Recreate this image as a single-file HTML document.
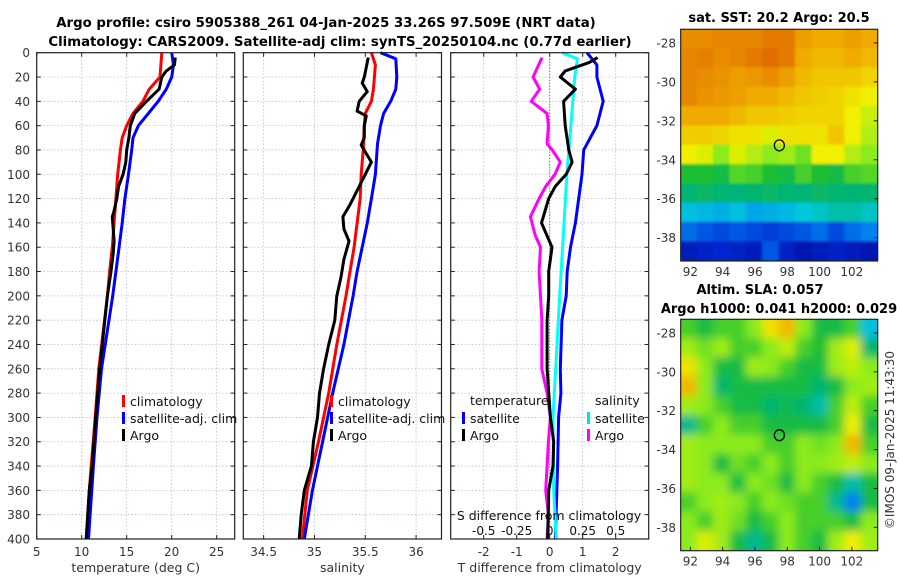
<!DOCTYPE html>
<html><head><meta charset="utf-8"><style>
html,body{margin:0;padding:0;background:#fff;}
svg{display:block;font-family:"DejaVu Sans","Liberation Sans",sans-serif;}
</style></head><body>
<svg id="fig" width="900" height="580" viewBox="0 0 900 580" xmlns="http://www.w3.org/2000/svg">
<defs><filter id="blur" x="-5%" y="-5%" width="110%" height="110%"><feGaussianBlur stdDeviation="4.5" edgeMode="duplicate"/></filter>
<filter id="blur2" x="0" y="0" width="100%" height="100%"><feGaussianBlur stdDeviation="1.2" edgeMode="duplicate"/></filter>
<clipPath id="clip1"><rect x="680.7" y="29.3" width="197" height="231.7"/></clipPath>
<clipPath id="clip2"><rect x="680.7" y="319.3" width="197" height="231.4"/></clipPath></defs>
<text x="326" y="27" text-anchor="middle" font-size="13.3" font-weight="bold">Argo profile: csiro 5905388_261 04-Jan-2025 33.26S 97.509E (NRT data)</text>
<text x="340" y="46" text-anchor="middle" font-size="13.3" font-weight="bold">Climatology: CARS2009. Satellite-adj clim: synTS_20250104.nc (0.77d earlier)</text>
<text x="779" y="22" text-anchor="middle" font-size="13" font-weight="bold">sat. SST: 20.2 Argo: 20.5</text>
<text x="760" y="294" text-anchor="middle" font-size="13" font-weight="bold">Altim. SLA: 0.057</text>
<text x="779" y="313" text-anchor="middle" font-size="13" font-weight="bold">Argo h1000: 0.041 h2000: 0.029</text>
<text transform="translate(894,440) rotate(-90)" text-anchor="middle" font-size="12" fill="#333">©IMOS 09-Jan-2025 11:43:30</text>
</svg>
<script>
// ---------- data ----------
const depthTicks = [0,20,40,60,80,100,120,140,160,180,200,220,240,260,280,300,320,340,360,380,400];
const tempTicks = [5,10,15,20,25];
const salTicks = [34.5,35,35.5,36];
const salTickLabels = ['34.5','35','35.5','36'];
const diffTicks = [-2,-1,0,1,2];
const sdiffTicks = [-0.5,-0.25,0,0.25,0.5];
const sdiffTickLabels = ['-0.5','-0.25','0','0.25','0.5'];

const tClimDepth = [0,20,30,40,50,60,70,80,100,120,140,160,180,200,260,300,340,360,400];
const tClim = [18.9,18.7,17.5,16.8,15.7,15.0,14.5,14.3,14.0,13.8,13.6,13.4,13.1,12.85,11.9,11.5,11.05,10.85,10.5];
const tSatDepth = [0,10,20,30,40,50,60,70,80,100,120,140,160,180,200,260,300,340,400];
const tSat = [20.0,20.2,20.0,19.4,18.5,17.4,16.3,15.7,15.55,15.2,14.8,14.5,14.15,13.8,13.45,12.2,11.7,11.3,10.75];
const tArgoDepth = [4,10,15,20,30,40,50,60,70,80,90,100,110,120,130,135,145,155,165,180,200,260,300,340,360,400];
const tArgo = [20.4,20.3,19.4,18.9,18.6,17.2,15.9,15.4,15.25,15.0,14.9,14.6,14.1,13.9,13.6,13.4,13.5,13.6,13.5,13.25,12.85,12.0,11.55,11.15,10.85,10.5];

const sClimDepth = [0,10,30,40,50,60,80,100,120,140,160,180,200,240,280,320,360,400];
const sClim = [35.56,35.6,35.58,35.56,35.5,35.49,35.48,35.46,35.45,35.42,35.39,35.35,35.31,35.22,35.14,35.04,34.93,34.88];
const sSatDepth = [0,5,20,30,40,50,60,75,100,120,140,160,180,200,240,280,320,360,400];
const sSat = [35.65,35.8,35.81,35.8,35.75,35.68,35.65,35.62,35.6,35.56,35.52,35.47,35.42,35.38,35.29,35.18,35.08,34.98,34.9];
const sArgoDepth = [4,20,25,32,40,48,52,60,70,76,90,100,110,125,135,145,155,170,185,200,220,240,260,280,300,320,340,360,380,400];
const sArgo = [35.53,35.49,35.47,35.52,35.44,35.42,35.51,35.49,35.49,35.46,35.56,35.5,35.44,35.35,35.28,35.29,35.34,35.29,35.26,35.22,35.2,35.14,35.09,35.05,35.03,34.99,34.97,34.9,34.87,34.85];

const dTSatDepth = [0,10,20,40,60,80,100,120,140,160,180,200,220,260,280,300,340,400];
const dTSat = [1.13,1.43,1.43,1.62,1.43,1.03,0.98,0.88,0.78,0.63,0.53,0.5,0.37,0.32,0.34,0.27,0.24,0.17];
const dTArgoDepth = [4,8,15,20,30,40,60,80,90,100,110,120,140,160,180,200,220,260,300,320,340,360,400];
const dTArgo = [1.45,1.2,0.47,0.32,0.78,0.42,0.47,0.58,0.68,0.5,0.17,-0.03,-0.25,0.07,-0.03,-0.03,-0.08,-0.08,0.02,0.12,0.1,-0.03,-0.06];
const dSSatDepth = [0,5,20,100,200,300,360,400];
const dSSat = [0.093,0.21,0.19,0.13,0.076,0.025,0.03,0.05];
const dSArgoDepth = [4,20,30,40,50,60,75,80,90,100,110,120,135,150,160,180,200,220,260,280,300,320,340,360,380,400];
const dSArgo = [-0.058,-0.126,-0.076,-0.14,-0.02,-0.01,-0.02,0.02,0.08,0.04,-0.03,-0.08,-0.146,-0.11,-0.07,-0.08,-0.07,-0.06,-0.06,-0.02,0.005,-0.01,-0.02,-0.03,-0.01,-0.02];

const latTicks = [-28,-30,-32,-34,-36,-38];
const lonTicks = [92,94,96,98,100,102];
const sstGrid = [
[.85,.85,.86,.86,.86,.88,.88,.82,.8,.8,.82,.8],
[.86,.87,.85,.86,.88,.9,.88,.8,.78,.78,.8,.78],
[.86,.85,.84,.82,.83,.85,.82,.78,.76,.76,.76,.74],
[.86,.84,.83,.82,.8,.8,.78,.76,.75,.74,.72,.7],
[.8,.8,.8,.78,.76,.76,.75,.74,.74,.74,.7,.66],
[.75,.75,.74,.72,.72,.68,.72,.72,.72,.76,.7,.64],
[.7,.68,.6,.68,.64,.6,.62,.58,.7,.7,.64,.6],
[.52,.52,.5,.56,.55,.52,.5,.55,.52,.5,.55,.56],
[.45,.46,.45,.44,.45,.46,.45,.44,.46,.45,.44,.45],
[.35,.34,.33,.35,.32,.33,.34,.36,.38,.4,.4,.38],
[.25,.22,.2,.22,.2,.18,.2,.22,.25,.2,.25,.28],
[.1,.12,.15,.12,.1,.22,.12,.08,.1,.12,.1,.08]];
const slaGrid = [
[.55,.5,.55,.55,.6,.72,.78,.6,.5,.5,.55,.35],
[.62,.58,.62,.55,.55,.6,.65,.55,.52,.62,.68,.45],
[.72,.6,.5,.5,.62,.6,.55,.5,.5,.62,.65,.6],
[.78,.6,.45,.5,.5,.5,.5,.5,.45,.5,.6,.62],
[.62,.6,.55,.5,.5,.45,.48,.45,.4,.55,.65,.55],
[.42,.55,.6,.55,.55,.5,.5,.5,.5,.55,.7,.5],
[.62,.6,.6,.6,.6,.55,.55,.6,.58,.6,.78,.55],
[.62,.6,.5,.58,.55,.6,.55,.6,.6,.62,.65,.6],
[.62,.6,.6,.5,.6,.58,.5,.6,.55,.5,.4,.5],
[.55,.6,.62,.6,.55,.6,.58,.55,.55,.42,.28,.5],
[.6,.55,.62,.58,.5,.55,.6,.55,.55,.55,.5,.6],
[.6,.68,.62,.5,.42,.5,.6,.55,.5,.62,.7,.62]];
const argoLon = 97.509;
const argoLat = -33.26;

// ---------- drawing ----------
const svg = document.getElementById('fig');
const NS = 'http://www.w3.org/2000/svg';
function mk(tag, attrs, parent){const e=document.createElementNS(NS,tag);for(const k in attrs)e.setAttribute(k,attrs[k]);(parent||svg).appendChild(e);return e;}
const Y0=52.7, Y1=539;
const yD = d => Y0 + (d/400)*(Y1-Y0);
const panels = [
 {x0:36.7,x1:234.7,min:5,max:27,name:'temperature-panel'},
 {x0:243.3,x1:441.5,min:34.3,max:36.25,name:'salinity-panel'},
 {x0:450.7,x1:648.7,min:-3,max:3,name:'difference-panel'}];
function sx(p,v){return p.x0+(v-p.min)/(p.max-p.min)*(p.x1-p.x0);}
const sP = {x0:450.7,x1:648.7,min:-0.75,max:0.75};

function panel(p, ticks, labels, xlabel, xlabelName){
  const g = mk('g',{});
  
  
  const ticksX = ticks.map(t=>sx(p,t));
  ticksX.forEach(x=>{ mk('line',{x1:x,x2:x,y1:Y0,y2:Y1,stroke:'#b8b8e0','stroke-width':0.8,'stroke-dasharray':'1.5,2'},g);
    mk('line',{x1:x,x2:x,y1:Y1,y2:Y1-4,stroke:'#222'},g); mk('line',{x1:x,x2:x,y1:Y0,y2:Y0+4,stroke:'#222'},g);});
  depthTicks.forEach(d=>{const y=yD(d);
    mk('line',{x1:p.x0,x2:p.x1,y1:y,y2:y,stroke:'#b8b8e0','stroke-width':0.8,'stroke-dasharray':'1.5,2'},g);
    mk('line',{x1:p.x0,x2:p.x0+4,y1:y,y2:y,stroke:'#222'},g); mk('line',{x1:p.x1,x2:p.x1-4,y1:y,y2:y,stroke:'#222'},g);});
  ticksX.forEach((x,i)=>{const t=mk('text',{x:x,y:556,'text-anchor':'middle','font-size':12,fill:'#333'},g);t.textContent=labels[i];
    
    });
  const xl=mk('text',{x:(p.x0+p.x1)/2,y:572,'text-anchor':'middle','font-size':12.5,fill:'#333'},g); xl.textContent=xlabel;
  
  
  return g;
}
function frame(p){const r=mk('rect',{x:p.x0,y:Y0,width:p.x1-p.x0,height:Y1-Y0,fill:'none',stroke:'#222','stroke-width':1.2});
  
  }
function line(p, depths, vals, color, name, w){
  const pts = depths.map((d,i)=>sx(p,vals[i]).toFixed(1)+','+yD(d).toFixed(1)).join(' ');
  const l = mk('polyline',{points:pts,fill:'none',stroke:color,'stroke-width':w||3,'stroke-linejoin':'round'});
  
  
}
function legendItem(x,y,color,label,name){
  const g=mk('g',{});
  
  
  mk('rect',{x:x,y:y-11,width:3,height:12,fill:color},g);
  const t=mk('text',{x:x+8,y:y,'font-size':12.5,fill:'#111'},g); t.textContent=label;
}

panel(panels[0], tempTicks, tempTicks.map(String), 'temperature (deg C)', 'temperature-axis-title');
panel(panels[1], salTicks, salTickLabels, 'salinity', 'salinity-axis-title');
panel(panels[2], diffTicks, diffTicks.map(String), 'T difference from climatology', 'temp-diff-axis-title');

depthTicks.forEach(d=>{const t=mk('text',{x:30,y:yD(d)+4.5,'text-anchor':'end','font-size':12,fill:'#333'});t.textContent=String(d);
  
  });

const z=mk('line',{x1:sx(panels[2],0),x2:sx(panels[2],0),y1:Y0,y2:Y1,stroke:'#555522','stroke-width':1,'stroke-dasharray':'1,2'});



line(panels[0], tClimDepth, tClim, '#ff0000', 'temp-climatology-line');
line(panels[0], tSatDepth, tSat, '#0000ff', 'temp-satellite-line');
line(panels[0], tArgoDepth, tArgo, '#000000', 'temp-argo-line');
line(panels[1], sClimDepth, sClim, '#ff0000', 'sal-climatology-line');
line(panels[1], sSatDepth, sSat, '#0000ff', 'sal-satellite-line');
line(panels[1], sArgoDepth, sArgo, '#000000', 'sal-argo-line');
line(panels[2], dTSatDepth, dTSat, '#0000ff', 'tdiff-satellite-line');
line(sP, dSSatDepth, dSSat, '#00ffff', 'sdiff-satellite-line');
line(sP, dSArgoDepth, dSArgo, '#ff00ff', 'sdiff-argo-line');
line(panels[2], dTArgoDepth, dTArgo, '#000000', 'tdiff-argo-line');
panels.forEach(frame);

[[122,'temp-legend'],[330,'sal-legend']].forEach(([x,n])=>{
  legendItem(x,406,'#ff0000','climatology',n+'-climatology');
  legendItem(x,423,'#0000ff','satellite-adj. clim',n+'-satellite');
  legendItem(x,440,'#000000','Argo',n+'-argo');
});
let t=mk('text',{x:470,y:405,'font-size':12.5,fill:'#111'});t.textContent='temperature';


t=mk('text',{x:595,y:405,'font-size':12.5,fill:'#111'});t.textContent='salinity';


legendItem(462,423,'#0000ff','satellite','legend-tdiff-satellite');
legendItem(462,440,'#000000','Argo','legend-tdiff-argo');
legendItem(587,423,'#00e0e0','satellite','legend-sdiff-satellite');
legendItem(587,440,'#ff00ff','Argo','legend-sdiff-argo');
t=mk('text',{x:549,y:520,'text-anchor':'middle','font-size':12.5,fill:'#111'});t.textContent='S difference from climatology';


sdiffTicks.forEach((v,i)=>{const tt=mk('text',{x:sx(sP,v),y:535,'text-anchor':'middle','font-size':12,fill:'#111'});tt.textContent=sdiffTickLabels[i];
  
  });

// ---------- maps ----------
const stops=[[0,[0,0,140]],[0.15,[0,40,210]],[0.28,[0,130,240]],[0.36,[0,200,220]],[0.44,[0,180,120]],[0.52,[30,190,50]],[0.6,[140,235,30]],[0.7,[240,240,0]],[0.8,[240,170,0]],[0.9,[225,110,0]],[1,[190,60,0]]];
function cmap(v){for(let i=1;i<stops.length;i++){if(v<=stops[i][0]){const a=stops[i-1],b=stops[i],f=(v-a[0])/(b[0]-a[0]);return 'rgb('+a[1].map((c,k)=>Math.round(c+(b[1][k]-c)*f)).join(',')+')';}}return 'rgb(190,60,0)';}
function map(grid, top, bottom, clip, name, blur){
  const L=680.7,R=877.7, lon0=91.4, lon1=103.6, lat0=-27.3, lat1=-39.2;
  const xL = lon => L+(lon-lon0)/(lon1-lon0)*(R-L);
  const yL = lat => top+(lat-lat0)/(lat1-lat0)*(bottom-top);
  const g=mk('g',{'clip-path':'url(#'+clip+')'});
  
  
  const inner=mk('g',{filter:'url(#'+blur+')'},g);
  const rows=grid.length, cols=grid[0].length, cw=(R-L)/cols, ch=(bottom-top)/rows;
  mk('rect',{x:L-10,y:top-10,width:R-L+20,height:bottom-top+20,fill:cmap(grid[0][0])},inner);
  grid.forEach((row,r)=>row.forEach((v,c)=>{
    const x0 = c===0 ? L-10 : L+c*cw-0.5;
    const x1 = c===cols-1 ? R+10 : L+(c+1)*cw+0.5;
    const y0 = r===0 ? top-10 : top+r*ch-0.5;
    const y1 = r===rows-1 ? bottom+10 : top+(r+1)*ch+0.5;
    const cell=mk('rect',{x:x0,y:y0,width:x1-x0,height:y1-y0,fill:cmap(v)},inner);
    
    
  }));
  const fr=mk('rect',{x:L,y:top,width:R-L,height:bottom-top,fill:'none',stroke:'#222','stroke-width':1.2});
  
  
  latTicks.forEach(lat=>{const y=yL(lat);
    mk('line',{x1:R,x2:R-4,y1:y,y2:y,stroke:'#222'});
    const tl=mk('text',{x:676,y:y+4.5,'text-anchor':'end','font-size':12,fill:'#333'});tl.textContent=String(lat);
    
    });
  lonTicks.forEach(lon=>{const x=xL(lon);
    mk('line',{x1:x,x2:x,y1:bottom,y2:bottom-4,stroke:'#222'});
    const tl=mk('text',{x:x,y:bottom+15,'text-anchor':'middle','font-size':12,fill:'#333'});tl.textContent=String(lon);
    
    });
  const c=mk('ellipse',{cx:xL(argoLon),cy:yL(argoLat),rx:5,ry:5.5,fill:'none',stroke:'#000','stroke-width':1.3});
  
  
}
map(sstGrid, 29.3, 261, 'clip1', 'sst-map', 'blur2');
map(slaGrid, 319.3, 550.7, 'clip2', 'sla-map', 'blur');
</script>
</body></html>
